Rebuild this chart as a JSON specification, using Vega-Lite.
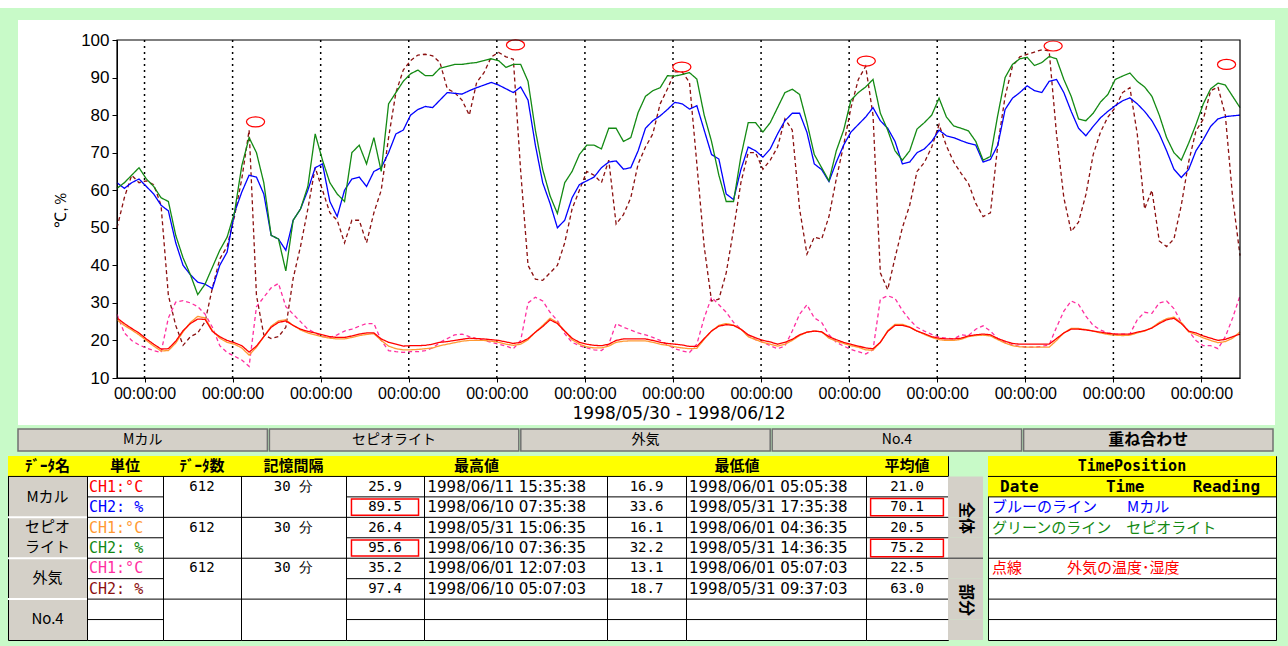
{
  "$schema": "https://vega.github.io/schema/vega-lite/v6.json",
  "background": "#c8fac8",
  "padding": {"left": 0, "top": 0, "right": 0, "bottom": 6},
  "config": {"view": {"stroke": null}, "font": "Liberation Sans"},
  "datasets": {
    "series": [
      {"t":"1998-05-30T16:30","b":62,"g":60.5,"o":50,"r":26,"y":25.5,"p":27},
      {"t":"1998-05-30T18:30","b":60.5,"g":62,"o":58,"r":24.5,"y":24,"p":22},
      {"t":"1998-05-30T20:30","b":62,"g":64,"o":64,"r":23.2,"y":22.8,"p":20},
      {"t":"1998-05-30T22:30","b":63,"g":66,"o":62,"r":22,"y":21.5,"p":18.8},
      {"t":"1998-05-31T00:30","b":61,"g":63,"o":62.5,"r":20.4,"y":20,"p":18},
      {"t":"1998-05-31T02:30","b":59,"g":61,"o":61.5,"r":19,"y":18.5,"p":17.3},
      {"t":"1998-05-31T04:30","b":56,"g":58,"o":56,"r":17.7,"y":17.2,"p":16.8},
      {"t":"1998-05-31T06:30","b":54.5,"g":57,"o":32,"r":17.8,"y":17.3,"p":26},
      {"t":"1998-05-31T08:30","b":46,"g":48,"o":24,"r":19.8,"y":19.3,"p":30.2},
      {"t":"1998-05-31T10:30","b":40,"g":42,"o":18.7,"r":22.6,"y":22.3,"p":30.6},
      {"t":"1998-05-31T12:30","b":37.5,"g":37.5,"o":21,"r":24.5,"y":24.8,"p":30},
      {"t":"1998-05-31T14:30","b":35.5,"g":32.2,"o":22,"r":25.7,"y":26.4,"p":29},
      {"t":"1998-05-31T16:30","b":35,"g":35,"o":25,"r":25.6,"y":26,"p":27},
      {"t":"1998-05-31T18:30","b":33.8,"g":39.5,"o":34,"r":22.4,"y":22.6,"p":23.5},
      {"t":"1998-05-31T20:30","b":40,"g":44,"o":41.7,"r":21,"y":20.6,"p":18.6},
      {"t":"1998-05-31T22:30","b":43.5,"g":47.5,"o":45,"r":20,"y":19.5,"p":16.8},
      {"t":"1998-06-01T00:30","b":54,"g":54,"o":53,"r":19.4,"y":19,"p":15.8},
      {"t":"1998-06-01T02:30","b":59.5,"g":66.5,"o":63,"r":18.6,"y":18,"p":14.8},
      {"t":"1998-06-01T04:30","b":64,"g":74,"o":76,"r":16.9,"y":16.1,"p":13.1},
      {"t":"1998-06-01T06:30","b":63.5,"g":70,"o":32,"r":18.5,"y":18.2,"p":29},
      {"t":"1998-06-01T08:30","b":59,"g":62,"o":21.5,"r":21,"y":21,"p":31.5},
      {"t":"1998-06-01T10:30","b":48,"g":48,"o":20.5,"r":23.5,"y":23.8,"p":34},
      {"t":"1998-06-01T12:30","b":47,"g":47,"o":21,"r":24.8,"y":25.2,"p":35.2},
      {"t":"1998-06-01T14:30","b":44,"g":38.5,"o":23.5,"r":25.2,"y":25.5,"p":29},
      {"t":"1998-06-01T16:30","b":52,"g":52,"o":36.5,"r":24,"y":24,"p":27},
      {"t":"1998-06-01T18:30","b":55,"g":55,"o":45,"r":23,"y":22.8,"p":25},
      {"t":"1998-06-01T20:30","b":60,"g":61,"o":55,"r":22.4,"y":22,"p":23},
      {"t":"1998-06-01T22:30","b":66,"g":75,"o":66,"r":22,"y":21.5,"p":22},
      {"t":"1998-06-02T00:30","b":67,"g":68,"o":60,"r":21.5,"y":21,"p":21},
      {"t":"1998-06-02T02:30","b":57,"g":62,"o":54,"r":21,"y":20.6,"p":20.8},
      {"t":"1998-06-02T04:30","b":53,"g":59,"o":52,"r":20.8,"y":20.4,"p":21.5},
      {"t":"1998-06-02T06:30","b":60,"g":57,"o":46,"r":20.8,"y":20.4,"p":22.5},
      {"t":"1998-06-02T08:30","b":63,"g":70,"o":52,"r":21.2,"y":20.8,"p":23},
      {"t":"1998-06-02T10:30","b":63.5,"g":72,"o":52,"r":21.7,"y":21.3,"p":23.8},
      {"t":"1998-06-02T12:30","b":61,"g":67,"o":46,"r":22,"y":21.6,"p":24.5},
      {"t":"1998-06-02T14:30","b":65,"g":74,"o":54,"r":22,"y":21.8,"p":24.5},
      {"t":"1998-06-02T16:30","b":66,"g":65,"o":60,"r":20.4,"y":20,"p":20},
      {"t":"1998-06-02T18:30","b":70,"g":83,"o":74,"r":19.5,"y":18.5,"p":17.3},
      {"t":"1998-06-02T20:30","b":75,"g":86,"o":86,"r":19,"y":17.8,"p":17},
      {"t":"1998-06-02T22:30","b":76,"g":89,"o":92,"r":18.5,"y":17.5,"p":16.8},
      {"t":"1998-06-03T00:30","b":80,"g":91,"o":94.5,"r":18.6,"y":17.5,"p":17},
      {"t":"1998-06-03T02:30","b":81.5,"g":92,"o":96,"r":18.6,"y":17.6,"p":17},
      {"t":"1998-06-03T04:30","b":82.3,"g":90.5,"o":96.2,"r":18.7,"y":17.8,"p":17.3},
      {"t":"1998-06-03T06:30","b":82,"g":90.5,"o":95.8,"r":19,"y":18,"p":18},
      {"t":"1998-06-03T08:30","b":84,"g":92.5,"o":94,"r":19.5,"y":18.6,"p":19.5},
      {"t":"1998-06-03T10:30","b":86,"g":93,"o":87,"r":19.7,"y":19,"p":20.5},
      {"t":"1998-06-03T12:30","b":85.8,"g":93.5,"o":86,"r":20,"y":19.4,"p":21.5},
      {"t":"1998-06-03T14:30","b":85.6,"g":93.5,"o":84,"r":20.3,"y":19.8,"p":21.7},
      {"t":"1998-06-03T16:30","b":86.5,"g":93.8,"o":80,"r":20.6,"y":20,"p":21},
      {"t":"1998-06-03T18:30","b":87.3,"g":94,"o":88.7,"r":20.5,"y":20,"p":20.5},
      {"t":"1998-06-03T20:30","b":88,"g":94.5,"o":91.3,"r":20.4,"y":20,"p":20},
      {"t":"1998-06-03T22:30","b":88.7,"g":95,"o":95.5,"r":20.2,"y":19.8,"p":19.5},
      {"t":"1998-06-04T00:30","b":88,"g":94.5,"o":96.7,"r":20,"y":19.5,"p":19},
      {"t":"1998-06-04T02:30","b":87,"g":92.7,"o":95.5,"r":19.6,"y":19,"p":18.5},
      {"t":"1998-06-04T04:30","b":86,"g":93.5,"o":94.9,"r":19.2,"y":18.7,"p":17.8},
      {"t":"1998-06-04T06:30","b":87.5,"g":93.5,"o":65,"r":19.5,"y":19,"p":20},
      {"t":"1998-06-04T08:30","b":84,"g":89,"o":40,"r":20.5,"y":20.2,"p":30},
      {"t":"1998-06-04T10:30","b":72,"g":76,"o":36.3,"r":22.2,"y":22.2,"p":31.5},
      {"t":"1998-06-04T12:30","b":62,"g":65.5,"o":36,"r":23.7,"y":24,"p":30.5},
      {"t":"1998-06-04T14:30","b":56.5,"g":58.5,"o":38,"r":25.5,"y":25.9,"p":27.5},
      {"t":"1998-06-04T16:30","b":50,"g":53.8,"o":40,"r":24.5,"y":24.8,"p":25.3},
      {"t":"1998-06-04T18:30","b":52,"g":62,"o":46,"r":22.5,"y":22.5,"p":21.8},
      {"t":"1998-06-04T20:30","b":58,"g":65,"o":55,"r":20.6,"y":20.2,"p":19.5},
      {"t":"1998-06-04T22:30","b":61.5,"g":69.5,"o":60,"r":19.5,"y":19,"p":18.6},
      {"t":"1998-06-05T00:30","b":62.5,"g":72,"o":65,"r":19,"y":18.3,"p":18},
      {"t":"1998-06-05T02:30","b":63.5,"g":72,"o":64,"r":18.7,"y":18,"p":17.5},
      {"t":"1998-06-05T04:30","b":66,"g":71,"o":62,"r":18.6,"y":18,"p":17.3},
      {"t":"1998-06-05T06:30","b":67.5,"g":76.5,"o":68,"r":19,"y":18.5,"p":19},
      {"t":"1998-06-05T08:30","b":67.8,"g":76.5,"o":51,"r":20,"y":19.5,"p":24.5},
      {"t":"1998-06-05T10:30","b":65.6,"g":73,"o":53.5,"r":20.4,"y":19.8,"p":23.5},
      {"t":"1998-06-05T12:30","b":66,"g":74,"o":58,"r":20.4,"y":19.9,"p":22.8},
      {"t":"1998-06-05T14:30","b":70.5,"g":80.7,"o":67,"r":20.4,"y":19.9,"p":22},
      {"t":"1998-06-05T16:30","b":76.5,"g":85,"o":71.5,"r":20.4,"y":19.9,"p":21.5},
      {"t":"1998-06-05T18:30","b":78.5,"g":86.5,"o":75,"r":20,"y":19.5,"p":20.8},
      {"t":"1998-06-05T20:30","b":79.8,"g":87.3,"o":83,"r":19.5,"y":19,"p":20},
      {"t":"1998-06-05T22:30","b":81.5,"g":90.5,"o":87,"r":19.2,"y":18.7,"p":18.8},
      {"t":"1998-06-06T00:30","b":83.4,"g":90.4,"o":91.5,"r":19,"y":18.3,"p":17.8},
      {"t":"1998-06-06T02:30","b":83,"g":90.8,"o":91.5,"r":18.8,"y":18,"p":17.2},
      {"t":"1998-06-06T04:30","b":81.6,"g":91.3,"o":88.7,"r":18.4,"y":17.8,"p":16.8},
      {"t":"1998-06-06T06:30","b":82.5,"g":89.6,"o":67,"r":18.4,"y":17.9,"p":19},
      {"t":"1998-06-06T08:30","b":76,"g":80,"o":45,"r":20.5,"y":20.3,"p":26},
      {"t":"1998-06-06T10:30","b":69.5,"g":73,"o":30.5,"r":22.5,"y":22.5,"p":31.5},
      {"t":"1998-06-06T12:30","b":68.3,"g":64,"o":31,"r":23.8,"y":24,"p":29.5},
      {"t":"1998-06-06T14:30","b":59,"g":57,"o":38,"r":24.2,"y":24.5,"p":27.5},
      {"t":"1998-06-06T16:30","b":57.5,"g":57,"o":49.5,"r":24,"y":24.1,"p":24.8},
      {"t":"1998-06-06T18:30","b":65.5,"g":69,"o":62,"r":23,"y":23,"p":23},
      {"t":"1998-06-06T20:30","b":71.5,"g":78,"o":70,"r":21.5,"y":21,"p":21.5},
      {"t":"1998-06-06T22:30","b":70.5,"g":78,"o":70,"r":20.7,"y":20.2,"p":20.2},
      {"t":"1998-06-07T00:30","b":68.8,"g":75.5,"o":65.6,"r":20,"y":19.5,"p":19.5},
      {"t":"1998-06-07T02:30","b":71,"g":78,"o":68,"r":19.6,"y":19,"p":18.6},
      {"t":"1998-06-07T04:30","b":75,"g":82,"o":71.5,"r":19,"y":18.5,"p":17.8},
      {"t":"1998-06-07T06:30","b":78.5,"g":86,"o":79,"r":19.5,"y":19,"p":18.5},
      {"t":"1998-06-07T08:30","b":80.5,"g":86.9,"o":76,"r":20.3,"y":20,"p":22.5},
      {"t":"1998-06-07T10:30","b":80.5,"g":85.5,"o":55,"r":21.5,"y":21.3,"p":27},
      {"t":"1998-06-07T12:30","b":75.4,"g":78,"o":43,"r":22.2,"y":22.2,"p":29.5},
      {"t":"1998-06-07T14:30","b":67,"g":69.5,"o":47.5,"r":22.5,"y":22.5,"p":26},
      {"t":"1998-06-07T16:30","b":65.5,"g":66,"o":47,"r":22.3,"y":22.3,"p":24.8},
      {"t":"1998-06-07T18:30","b":62.3,"g":62.5,"o":53,"r":21,"y":20.6,"p":21.5},
      {"t":"1998-06-07T20:30","b":67.5,"g":70.5,"o":63,"r":20.2,"y":19.8,"p":19.5},
      {"t":"1998-06-07T22:30","b":72,"g":76,"o":72,"r":19.5,"y":19.2,"p":18.5},
      {"t":"1998-06-08T00:30","b":75.5,"g":84,"o":82,"r":19,"y":18.6,"p":17.6},
      {"t":"1998-06-08T02:30","b":77.5,"g":86,"o":89.5,"r":18.5,"y":18.2,"p":17},
      {"t":"1998-06-08T04:30","b":79.5,"g":87.5,"o":93,"r":18,"y":17.5,"p":16.4},
      {"t":"1998-06-08T06:30","b":82,"g":89.5,"o":80,"r":17.8,"y":17.4,"p":17.5},
      {"t":"1998-06-08T08:30","b":78.5,"g":80.5,"o":38,"r":19.5,"y":19.5,"p":31},
      {"t":"1998-06-08T10:30","b":76.5,"g":76,"o":33.5,"r":22.4,"y":22.6,"p":31.9},
      {"t":"1998-06-08T12:30","b":73,"g":70.5,"o":42,"r":24,"y":24.3,"p":31.2},
      {"t":"1998-06-08T14:30","b":67,"g":68,"o":50,"r":24,"y":24.3,"p":28},
      {"t":"1998-06-08T16:30","b":67.5,"g":70.5,"o":56,"r":23.5,"y":23.6,"p":25.5},
      {"t":"1998-06-08T18:30","b":70,"g":76.3,"o":65,"r":22.5,"y":22.5,"p":23.5},
      {"t":"1998-06-08T20:30","b":71,"g":78,"o":67.4,"r":21.8,"y":21.6,"p":22.5},
      {"t":"1998-06-08T22:30","b":73,"g":80,"o":71.5,"r":21,"y":20.8,"p":21.6},
      {"t":"1998-06-09T00:30","b":76,"g":84.5,"o":77.5,"r":20.6,"y":20.2,"p":20.9},
      {"t":"1998-06-09T02:30","b":74.5,"g":79.5,"o":71.8,"r":20.4,"y":20,"p":20.6},
      {"t":"1998-06-09T04:30","b":74,"g":77.1,"o":67.5,"r":20.4,"y":20,"p":20.4},
      {"t":"1998-06-09T06:30","b":73.2,"g":76.5,"o":64.5,"r":20.6,"y":20.3,"p":21.5},
      {"t":"1998-06-09T08:30","b":72.5,"g":75.8,"o":61.8,"r":21.2,"y":21,"p":21.3},
      {"t":"1998-06-09T10:30","b":72,"g":73,"o":56.5,"r":21.5,"y":21.3,"p":23},
      {"t":"1998-06-09T12:30","b":67.5,"g":68,"o":53,"r":21.7,"y":21.4,"p":23.9},
      {"t":"1998-06-09T14:30","b":68.2,"g":69,"o":54,"r":21.5,"y":21.2,"p":22.5},
      {"t":"1998-06-09T16:30","b":72,"g":80,"o":72,"r":20.5,"y":20.2,"p":20.5},
      {"t":"1998-06-09T18:30","b":81.5,"g":90,"o":85,"r":19.8,"y":19.3,"p":19.5},
      {"t":"1998-06-09T20:30","b":84.5,"g":93.5,"o":93,"r":19.2,"y":18.6,"p":18.8},
      {"t":"1998-06-09T22:30","b":86,"g":95,"o":95.5,"r":19,"y":18.3,"p":18.4},
      {"t":"1998-06-10T00:30","b":87.8,"g":95.4,"o":96.2,"r":19,"y":18.2,"p":18.2},
      {"t":"1998-06-10T02:30","b":86.5,"g":93.2,"o":96.8,"r":19,"y":18.2,"p":18.2},
      {"t":"1998-06-10T04:30","b":86,"g":94,"o":97.4,"r":19,"y":18.2,"p":18.4},
      {"t":"1998-06-10T06:30","b":89,"g":95.6,"o":97.1,"r":19,"y":18.2,"p":18.8},
      {"t":"1998-06-10T08:30","b":89.5,"g":95,"o":75,"r":20.5,"y":20,"p":23.5},
      {"t":"1998-06-10T10:30","b":86,"g":89.5,"o":58,"r":22,"y":22,"p":27.8},
      {"t":"1998-06-10T12:30","b":81,"g":85,"o":49,"r":23,"y":23.2,"p":30.5},
      {"t":"1998-06-10T14:30","b":76.5,"g":79,"o":51.5,"r":23,"y":23.2,"p":29.6},
      {"t":"1998-06-10T16:30","b":74.5,"g":78.5,"o":58.8,"r":22.8,"y":22.9,"p":26.5},
      {"t":"1998-06-10T18:30","b":77,"g":80.5,"o":69.5,"r":22.5,"y":22.5,"p":24},
      {"t":"1998-06-10T20:30","b":79.3,"g":83.5,"o":75.5,"r":22.2,"y":22,"p":22.8},
      {"t":"1998-06-10T22:30","b":81,"g":85.5,"o":79.5,"r":21.9,"y":21.6,"p":22},
      {"t":"1998-06-11T00:30","b":82.5,"g":89.5,"o":82,"r":21.7,"y":21.4,"p":21.7},
      {"t":"1998-06-11T02:30","b":83.8,"g":90.4,"o":86,"r":21.7,"y":21.3,"p":21.7},
      {"t":"1998-06-11T04:30","b":84.6,"g":91.2,"o":87.3,"r":21.7,"y":21.4,"p":21.7},
      {"t":"1998-06-11T06:30","b":83,"g":89,"o":75,"r":22.2,"y":22,"p":25.5},
      {"t":"1998-06-11T08:30","b":81,"g":87.5,"o":55,"r":22.6,"y":22.5,"p":27.5},
      {"t":"1998-06-11T10:30","b":78.5,"g":85,"o":60,"r":23.3,"y":23.4,"p":27.2},
      {"t":"1998-06-11T12:30","b":75,"g":80,"o":46.5,"r":24.5,"y":24.8,"p":30},
      {"t":"1998-06-11T14:30","b":70.5,"g":74,"o":45,"r":25.5,"y":25.8,"p":30.5},
      {"t":"1998-06-11T16:30","b":65.6,"g":70,"o":47,"r":25.9,"y":26.2,"p":28.5},
      {"t":"1998-06-11T18:30","b":63.4,"g":68,"o":56,"r":24.5,"y":24.8,"p":24.8},
      {"t":"1998-06-11T20:30","b":65.5,"g":72.5,"o":67.5,"r":22.5,"y":22.3,"p":22.5},
      {"t":"1998-06-11T22:30","b":70.5,"g":77.5,"o":75.8,"r":22,"y":21.5,"p":20},
      {"t":"1998-06-12T00:30","b":73.5,"g":83,"o":78.9,"r":21.2,"y":20.7,"p":18.6},
      {"t":"1998-06-12T02:30","b":77,"g":87,"o":86.5,"r":20.6,"y":20,"p":18.6},
      {"t":"1998-06-12T04:30","b":79,"g":88.5,"o":87.5,"r":20,"y":19.4,"p":17.8},
      {"t":"1998-06-12T06:30","b":79.6,"g":88,"o":80,"r":20.3,"y":19.7,"p":21},
      {"t":"1998-06-12T08:30","b":79.8,"g":85,"o":58,"r":21,"y":20.6,"p":26},
      {"t":"1998-06-12T10:30","b":80,"g":82,"o":42.6,"r":21.7,"y":22.3,"p":31.9}
    ],
    "peaks": [
      {"t":"1998-06-01T06:15","v":78.2},
      {"t":"1998-06-04T05:05","v":98.7},
      {"t":"1998-06-06T02:25","v":92.8},
      {"t":"1998-06-08T04:40","v":94.4},
      {"t":"1998-06-10T07:35","v":98.4},
      {"t":"1998-06-12T06:50","v":93.5}
    ],
    "days": [
      {"t":"1998-05-31T00:00"},{"t":"1998-06-01T00:00"},{"t":"1998-06-02T00:00"},{"t":"1998-06-03T00:00"},
      {"t":"1998-06-04T00:00"},{"t":"1998-06-05T00:00"},{"t":"1998-06-06T00:00"},{"t":"1998-06-07T00:00"},
      {"t":"1998-06-08T00:00"},{"t":"1998-06-09T00:00"},{"t":"1998-06-10T00:00"},{"t":"1998-06-11T00:00"},
      {"t":"1998-06-12T00:00"}
    ],
    "tabs": [{"tab":"Mカル"},{"tab":"セピオライト"},{"tab":"外気"},{"tab":"No.4"},{"tab":"重ね合わせ"}],
    "rows": [
      {"row":"r1","pair":true},{"row":"r2","pair":false},{"row":"r3","pair":true},{"row":"r4","pair":false},
      {"row":"r5","pair":true},{"row":"r6","pair":false},{"row":"r7","pair":true},{"row":"r8","pair":false}
    ],
    "hl": [{"col":"maxv","row":"r2"},{"col":"maxv","row":"r4"},{"col":"avg","row":"r2"},{"col":"avg","row":"r4"}],
    "cells": [
      {"col":"name","row":"r0","text":"ﾃﾞｰﾀ名"},
      {"col":"name","row":"r1","text":"Mカル"},
      {"col":"name","row":"r3","text":"セピオ"},
      {"col":"name","row":"r4","text":"ライト"},
      {"col":"name","row":"r5","text":"外気"},
      {"col":"name","row":"r7","text":"No.4"},
      {"col":"unit","row":"r0","text":"単位"},
      {"col":"unit","row":"r1","text":"CH1:°C","ser":"r"},
      {"col":"unit","row":"r2","text":"CH2: %","ser":"b"},
      {"col":"unit","row":"r3","text":"CH1:°C","ser":"y"},
      {"col":"unit","row":"r4","text":"CH2: %","ser":"g"},
      {"col":"unit","row":"r5","text":"CH1:°C","ser":"p"},
      {"col":"unit","row":"r6","text":"CH2: %","ser":"o"},
      {"col":"count","row":"r0","text":"ﾃﾞｰﾀ数"},
      {"col":"count","row":"r1","text":"612"},
      {"col":"count","row":"r3","text":"612"},
      {"col":"count","row":"r5","text":"612"},
      {"col":"int","row":"r0","text":"記憶間隔"},
      {"col":"int","row":"r1","text":"30 分"},
      {"col":"int","row":"r3","text":"30 分"},
      {"col":"int","row":"r5","text":"30 分"},
      {"col":"maxv","row":"r0","text":""},
      {"col":"maxv","row":"r1","text":"25.9"},
      {"col":"maxv","row":"r2","text":"89.5"},
      {"col":"maxv","row":"r3","text":"26.4"},
      {"col":"maxv","row":"r4","text":"95.6"},
      {"col":"maxv","row":"r5","text":"35.2"},
      {"col":"maxv","row":"r6","text":"97.4"},
      {"col":"maxt","row":"r0","text":"最高値"},
      {"col":"maxt","row":"r1","text":"1998/06/11 15:35:38"},
      {"col":"maxt","row":"r2","text":"1998/06/10 07:35:38"},
      {"col":"maxt","row":"r3","text":"1998/05/31 15:06:35"},
      {"col":"maxt","row":"r4","text":"1998/06/10 07:36:35"},
      {"col":"maxt","row":"r5","text":"1998/06/01 12:07:03"},
      {"col":"maxt","row":"r6","text":"1998/06/10 05:07:03"},
      {"col":"minv","row":"r0","text":""},
      {"col":"minv","row":"r1","text":"16.9"},
      {"col":"minv","row":"r2","text":"33.6"},
      {"col":"minv","row":"r3","text":"16.1"},
      {"col":"minv","row":"r4","text":"32.2"},
      {"col":"minv","row":"r5","text":"13.1"},
      {"col":"minv","row":"r6","text":"18.7"},
      {"col":"mint","row":"r0","text":"最低値"},
      {"col":"mint","row":"r1","text":"1998/06/01 05:05:38"},
      {"col":"mint","row":"r2","text":"1998/05/31 17:35:38"},
      {"col":"mint","row":"r3","text":"1998/06/01 04:36:35"},
      {"col":"mint","row":"r4","text":"1998/05/31 14:36:35"},
      {"col":"mint","row":"r5","text":"1998/06/01 05:07:03"},
      {"col":"mint","row":"r6","text":"1998/05/31 09:37:03"},
      {"col":"avg","row":"r0","text":"平均値"},
      {"col":"avg","row":"r1","text":"21.0"},
      {"col":"avg","row":"r2","text":"70.1"},
      {"col":"avg","row":"r3","text":"20.5"},
      {"col":"avg","row":"r4","text":"75.2"},
      {"col":"avg","row":"r5","text":"22.5"},
      {"col":"avg","row":"r6","text":"63.0"},
      {"col":"btn","row":"r2","text":"全体"},
      {"col":"btn","row":"r6","text":"部分"},
      {"col":"tp","row":"r0","text":"TimePosition"},
      {"col":"tp","row":"r1","text":"Date\u00a0\u00a0\u00a0\u00a0\u00a0\u00a0\u00a0Time\u00a0\u00a0\u00a0\u00a0\u00a0Reading"},
      {"col":"tp","row":"r2","text":"ブルーのライン　　Mカル","ser":"b"},
      {"col":"tp","row":"r3","text":"グリーンのライン　セピオライト","ser":"g"},
      {"col":"tp","row":"r5","text":"点線　　　外気の温度･湿度","ser":"n"}
    ]
  },
  "resolve": {"scale": {"color": "independent"}},
  "spacing": 3,
  "vconcat": [
    {"width": 1288, "height": 8, "data": {"values": [{}]}, "mark": {"type": "rect", "color": "white"}},
    {"width": 1288, "height": 6, "data": {"values": [{}]}, "mark": {"type": "rect", "color": "#c8fac8"}},
    {
      "bounds": "flush",
      "spacing": 0,
      "hconcat": [
        {"width": 18, "height": 405, "data": {"values": []}, "mark": "rect"},
        {
          "width": 1257,
          "height": 405,
          "view": {"fill": "white", "stroke": null},
          "layer": [
            {
              "data": {"name": "days"},
              "mark": {"type": "rule", "color": "black", "strokeDash": [2, 4], "strokeWidth": 1.5},
              "encoding": {
                "x": {"field": "t", "type": "temporal"},
                "y": {"datum": 100, "type": "quantitative"},
                "y2": {"datum": 10}
              }
            },
            {
              "data": {"name": "series"},
              "transform": [{"fold": ["o", "p", "y", "r", "b", "g"], "as": ["s", "v"]}],
              "mark": {"type": "line", "strokeWidth": 1.3},
              "encoding": {
                "x": {
                  "field": "t", "type": "temporal",
                  "scale": {"domain": [{"year": 1998, "month": 5, "date": 30, "hours": 16, "minutes": 30}, {"year": 1998, "month": 6, "date": 12, "hours": 10, "minutes": 30}], "range": [99, 1222], "nice": false},
                  "axis": {
                    "orient": "bottom", "offset": -47, "format": "%H:%M:%S",
                    "tickCount": {"interval": "day", "step": 1}, "grid": false,
                    "domainColor": "black", "tickColor": "black", "tickSize": 4,
                    "labelColor": "black", "labelFontSize": 16, "labelPadding": 3, "labelFlush": false, "labelOverlap": false,
                    "title": "1998/05/30 - 1998/06/12", "titleFont": "DejaVu Sans", "titleFontSize": 17, "titleFontWeight": "normal", "titleColor": "black", "titlePadding": 4
                  }
                },
                "y": {
                  "field": "v", "type": "quantitative",
                  "scale": {"domain": [10, 100], "range": [358, 20], "nice": false, "zero": false},
                  "axis": {
                    "orient": "left", "offset": -99, "grid": false,
                    "values": [10, 15, 20, 25, 30, 35, 40, 45, 50, 55, 60, 65, 70, 75, 80, 85, 90, 95, 100],
                    "labelExpr": "datum.value % 10 === 0 ? datum.label : ''",
                    "domainColor": "black", "tickColor": "black", "tickSize": 5,
                    "labelColor": "black", "labelFontSize": 17, "labelPadding": 3,
                    "title": "℃,％", "titleFontSize": 16, "titleFontWeight": "normal", "titleColor": "black", "titlePadding": 12
                  }
                },
                "color": {"field": "s", "type": "nominal", "legend": null,
                  "scale": {"domain": ["b", "g", "o", "r", "y", "p", "n"], "range": ["#0000ff", "#138a13", "#8b1010", "#ff0000", "#ff9933", "#ff2fa0", "#ff0000"]}},
                "strokeDash": {"field": "s", "type": "nominal", "legend": null,
                  "scale": {"domain": ["b", "g", "o", "r", "y", "p"], "range": [[1, 0], [1, 0], [4, 3], [1, 0], [1, 0], [4, 3]]}}
              }
            },
            {
              "data": {"name": "peaks"},
              "mark": {"type": "point", "shape": "M-1,0A1,0.55,0,1,1,1,0A1,0.55,0,1,1,-1,0Z", "size": 330, "filled": false, "color": "#ff0000", "strokeWidth": 1.2, "opacity": 1},
              "encoding": {
                "x": {"field": "t", "type": "temporal"},
                "y": {"field": "v", "type": "quantitative"}
              }
            },
            {
              "data": {"values": [{}]},
              "mark": {"type": "rect", "filled": false, "color": "black", "strokeWidth": 1.2},
              "encoding": {
                "x": {"datum": {"year": 1998, "month": 5, "date": 30, "hours": 16, "minutes": 30}, "type": "temporal"},
                "x2": {"datum": {"year": 1998, "month": 6, "date": 12, "hours": 10, "minutes": 30}},
                "y": {"datum": 100, "type": "quantitative"},
                "y2": {"datum": 10}
              }
            }
          ]
        }
      ]
    },
    {
      "bounds": "flush",
      "spacing": 0,
      "hconcat": [
        {"width": 18, "height": 22, "data": {"values": []}, "mark": "rect"},
        {
          "width": 1255,
          "height": 22,
          "data": {"name": "tabs"},
          "encoding": {"x": {"field": "tab", "type": "nominal", "sort": null, "axis": null, "scale": {"paddingInner": 0.008, "paddingOuter": 0}}},
          "layer": [
            {"mark": {"type": "rect", "color": "#d4d0c8", "stroke": "#707070", "strokeWidth": 1.5}},
            {"transform": [{"filter": "datum.tab !== '重ね合わせ'"}], "mark": {"type": "text", "font": "Noto Sans CJK JP", "fontSize": 14, "color": "black"}, "encoding": {"text": {"field": "tab"}}},
            {"transform": [{"filter": "datum.tab === '重ね合わせ'"}], "mark": {"type": "text", "font": "Noto Sans CJK JP", "fontSize": 16, "fontWeight": "bold", "color": "black"}, "encoding": {"text": {"field": "tab"}}}
          ]
        }
      ]
    },
    {
      "bounds": "flush",
      "spacing": 0,
      "hconcat": [
        {"width": 8, "height": 184, "data": {"values": []}, "mark": "rect"},
        {
          "width": 79, "height": 184, "view": {"fill": "#d4d0c8", "stroke": "black"},
          "layer": [
            {"data": {"name": "cells"}, "transform": [{"filter": "datum.col === 'name' && datum.row === 'r0'"}], "mark": {"type": "rect", "color": "#ffff00"},
             "encoding": {"y": {"field": "row", "type": "nominal", "axis": null, "scale": {"domain": ["r0","r1","r2","r3","r4","r5","r6","r7","r8"], "paddingInner": 0, "paddingOuter": 0}}}},
            {"data": {"name": "rows"}, "transform": [{"filter": "datum.row === 'r1'"}], "mark": {"type": "rule", "color": "black"},
             "encoding": {"y": {"field": "row", "type": "nominal", "bandPosition": 0, "axis": null}}},
            {"data": {"name": "rows"}, "transform": [{"filter": "datum.pair && datum.row !== 'r1'"}], "mark": {"type": "rule", "color": "white", "strokeWidth": 2},
             "encoding": {"y": {"field": "row", "type": "nominal", "bandPosition": 0, "axis": null}}},
            {"data": {"name": "cells"}, "transform": [{"filter": "datum.col === 'name' && datum.row === 'r0'"}], "mark": {"type": "text", "font": "Noto Sans CJK JP", "fontSize": 15, "fontWeight": "bold", "color": "black"},
             "encoding": {"y": {"field": "row", "type": "nominal", "axis": null}, "text": {"field": "text"}}},
            {"data": {"name": "cells"}, "transform": [{"filter": "datum.col === 'name' && (datum.row === 'r1' || datum.row === 'r5' || datum.row === 'r7')"}], "mark": {"type": "text", "font": "Noto Sans CJK JP", "fontSize": 15, "dy": 10, "color": "black"},
             "encoding": {"y": {"field": "row", "type": "nominal", "axis": null}, "text": {"field": "text"}}},
            {"data": {"name": "cells"}, "transform": [{"filter": "datum.col === 'name' && (datum.row === 'r3' || datum.row === 'r4')"}], "mark": {"type": "text", "font": "Noto Sans CJK JP", "fontSize": 15, "dy": -1, "color": "black"},
             "encoding": {"y": {"field": "row", "type": "nominal", "axis": null}, "text": {"field": "text"}}}
          ]
        },
        {
          "width": 76, "height": 184, "view": {"fill": "white", "stroke": "black"},
          "layer": [
            {"data": {"name": "cells"}, "transform": [{"filter": "datum.col === 'unit' && datum.row === 'r0'"}], "mark": {"type": "rect", "color": "#ffff00"},
             "encoding": {"y": {"field": "row", "type": "nominal", "axis": null, "scale": {"domain": ["r0","r1","r2","r3","r4","r5","r6","r7","r8"], "paddingInner": 0, "paddingOuter": 0}}}},
            {"data": {"name": "rows"}, "mark": {"type": "rule", "color": "black"},
             "encoding": {"y": {"field": "row", "type": "nominal", "bandPosition": 0, "axis": null}}},
            {"data": {"name": "cells"}, "transform": [{"filter": "datum.col === 'unit' && datum.row === 'r0'"}], "mark": {"type": "text", "font": "Noto Sans CJK JP", "fontSize": 15, "fontWeight": "bold", "color": "black"},
             "encoding": {"y": {"field": "row", "type": "nominal", "axis": null}, "text": {"field": "text"}}},
            {"data": {"name": "cells"}, "transform": [{"filter": "datum.col === 'unit' && datum.row !== 'r0'"}], "mark": {"type": "text", "font": "DejaVu Sans Mono", "fontSize": 15, "align": "left", "dx": -36},
             "encoding": {"y": {"field": "row", "type": "nominal", "axis": null}, "text": {"field": "text"},
              "color": {"field": "ser", "type": "nominal", "legend": null, "scale": {"domain": ["b", "g", "o", "r", "y", "p", "n"], "range": ["#0000ff", "#138a13", "#8b1010", "#ff0000", "#ff9933", "#ff2fa0", "#ff0000"]}}}}
          ]
        },
        {
          "width": 78, "height": 184, "view": {"fill": "white", "stroke": "black"},
          "layer": [
            {"data": {"name": "cells"}, "transform": [{"filter": "datum.col === 'count' && datum.row === 'r0'"}], "mark": {"type": "rect", "color": "#ffff00"},
             "encoding": {"y": {"field": "row", "type": "nominal", "axis": null, "scale": {"domain": ["r0","r1","r2","r3","r4","r5","r6","r7","r8"], "paddingInner": 0, "paddingOuter": 0}}}},
            {"data": {"name": "rows"}, "transform": [{"filter": "datum.pair"}], "mark": {"type": "rule", "color": "black"},
             "encoding": {"y": {"field": "row", "type": "nominal", "bandPosition": 0, "axis": null}}},
            {"data": {"name": "cells"}, "transform": [{"filter": "datum.col === 'count' && datum.row === 'r0'"}], "mark": {"type": "text", "font": "Noto Sans CJK JP", "fontSize": 15, "fontWeight": "bold", "color": "black"},
             "encoding": {"y": {"field": "row", "type": "nominal", "axis": null}, "text": {"field": "text"}}},
            {"data": {"name": "cells"}, "transform": [{"filter": "datum.col === 'count' && datum.row !== 'r0'"}], "mark": {"type": "text", "font": "DejaVu Sans Mono", "fontSize": 14, "color": "black"},
             "encoding": {"y": {"field": "row", "type": "nominal", "axis": null}, "text": {"field": "text"}}}
          ]
        },
        {
          "width": 105, "height": 184, "view": {"fill": "white", "stroke": "black"},
          "layer": [
            {"data": {"name": "cells"}, "transform": [{"filter": "datum.col === 'int' && datum.row === 'r0'"}], "mark": {"type": "rect", "color": "#ffff00"},
             "encoding": {"y": {"field": "row", "type": "nominal", "axis": null, "scale": {"domain": ["r0","r1","r2","r3","r4","r5","r6","r7","r8"], "paddingInner": 0, "paddingOuter": 0}}}},
            {"data": {"name": "rows"}, "transform": [{"filter": "datum.pair"}], "mark": {"type": "rule", "color": "black"},
             "encoding": {"y": {"field": "row", "type": "nominal", "bandPosition": 0, "axis": null}}},
            {"data": {"name": "cells"}, "transform": [{"filter": "datum.col === 'int' && datum.row === 'r0'"}], "mark": {"type": "text", "font": "Noto Sans CJK JP", "fontSize": 15, "fontWeight": "bold", "color": "black"},
             "encoding": {"y": {"field": "row", "type": "nominal", "axis": null}, "text": {"field": "text"}}},
            {"data": {"name": "cells"}, "transform": [{"filter": "datum.col === 'int' && datum.row !== 'r0'"}], "mark": {"type": "text", "font": "DejaVu Sans Mono", "fontSize": 14, "color": "black"},
             "encoding": {"y": {"field": "row", "type": "nominal", "axis": null}, "text": {"field": "text"}}}
          ]
        },
        {
          "width": 78, "height": 184, "view": {"fill": "white", "stroke": "black"},
          "layer": [
            {"data": {"name": "cells"}, "transform": [{"filter": "datum.col === 'maxv' && datum.row === 'r0'"}], "mark": {"type": "rect", "color": "#ffff00"},
             "encoding": {"y": {"field": "row", "type": "nominal", "axis": null, "scale": {"domain": ["r0","r1","r2","r3","r4","r5","r6","r7","r8"], "paddingInner": 0, "paddingOuter": 0}}}},
            {"data": {"name": "rows"}, "mark": {"type": "rule", "color": "black"},
             "encoding": {"y": {"field": "row", "type": "nominal", "bandPosition": 0, "axis": null}}},
            {"data": {"name": "hl"}, "transform": [{"filter": "datum.col === 'maxv'"}], "mark": {"type": "point", "shape": "M-1,-0.24L1,-0.24L1,0.24L-1,0.24Z", "size": 4500, "filled": false, "color": "#ff0000", "strokeWidth": 1.5, "opacity": 1},
             "encoding": {"y": {"field": "row", "type": "nominal", "axis": null}}},
            {"data": {"name": "cells"}, "transform": [{"filter": "datum.col === 'maxv' && datum.row !== 'r0'"}], "mark": {"type": "text", "font": "DejaVu Sans Mono", "fontSize": 14, "color": "black"},
             "encoding": {"y": {"field": "row", "type": "nominal", "axis": null}, "text": {"field": "text"}}}
          ]
        },
        {
          "width": 183, "height": 184, "view": {"fill": "white", "stroke": "black"},
          "layer": [
            {"data": {"name": "cells"}, "transform": [{"filter": "datum.col === 'maxt' && datum.row === 'r0'"}], "mark": {"type": "rect", "color": "#ffff00"},
             "encoding": {"y": {"field": "row", "type": "nominal", "axis": null, "scale": {"domain": ["r0","r1","r2","r3","r4","r5","r6","r7","r8"], "paddingInner": 0, "paddingOuter": 0}}}},
            {"data": {"name": "rows"}, "mark": {"type": "rule", "color": "black"},
             "encoding": {"y": {"field": "row", "type": "nominal", "bandPosition": 0, "axis": null}}},
            {"data": {"name": "cells"}, "transform": [{"filter": "datum.col === 'maxt' && datum.row === 'r0'"}], "mark": {"type": "text", "font": "Noto Sans CJK JP", "fontSize": 15, "fontWeight": "bold", "color": "black", "dx": -39},
             "encoding": {"y": {"field": "row", "type": "nominal", "axis": null}, "text": {"field": "text"}}},
            {"data": {"name": "cells"}, "transform": [{"filter": "datum.col === 'maxt' && datum.row !== 'r0'"}], "mark": {"type": "text", "font": "DejaVu Sans", "fontSize": 15, "color": "black", "align": "left", "dx": -88},
             "encoding": {"y": {"field": "row", "type": "nominal", "axis": null}, "text": {"field": "text"}}}
          ]
        },
        {
          "width": 79, "height": 184, "view": {"fill": "white", "stroke": "black"},
          "layer": [
            {"data": {"name": "cells"}, "transform": [{"filter": "datum.col === 'minv' && datum.row === 'r0'"}], "mark": {"type": "rect", "color": "#ffff00"},
             "encoding": {"y": {"field": "row", "type": "nominal", "axis": null, "scale": {"domain": ["r0","r1","r2","r3","r4","r5","r6","r7","r8"], "paddingInner": 0, "paddingOuter": 0}}}},
            {"data": {"name": "rows"}, "mark": {"type": "rule", "color": "black"},
             "encoding": {"y": {"field": "row", "type": "nominal", "bandPosition": 0, "axis": null}}},
            {"data": {"name": "cells"}, "transform": [{"filter": "datum.col === 'minv' && datum.row !== 'r0'"}], "mark": {"type": "text", "font": "DejaVu Sans Mono", "fontSize": 14, "color": "black"},
             "encoding": {"y": {"field": "row", "type": "nominal", "axis": null}, "text": {"field": "text"}}}
          ]
        },
        {
          "width": 180, "height": 184, "view": {"fill": "white", "stroke": "black"},
          "layer": [
            {"data": {"name": "cells"}, "transform": [{"filter": "datum.col === 'mint' && datum.row === 'r0'"}], "mark": {"type": "rect", "color": "#ffff00"},
             "encoding": {"y": {"field": "row", "type": "nominal", "axis": null, "scale": {"domain": ["r0","r1","r2","r3","r4","r5","r6","r7","r8"], "paddingInner": 0, "paddingOuter": 0}}}},
            {"data": {"name": "rows"}, "mark": {"type": "rule", "color": "black"},
             "encoding": {"y": {"field": "row", "type": "nominal", "bandPosition": 0, "axis": null}}},
            {"data": {"name": "cells"}, "transform": [{"filter": "datum.col === 'mint' && datum.row === 'r0'"}], "mark": {"type": "text", "font": "Noto Sans CJK JP", "fontSize": 15, "fontWeight": "bold", "color": "black", "dx": -39},
             "encoding": {"y": {"field": "row", "type": "nominal", "axis": null}, "text": {"field": "text"}}},
            {"data": {"name": "cells"}, "transform": [{"filter": "datum.col === 'mint' && datum.row !== 'r0'"}], "mark": {"type": "text", "font": "DejaVu Sans", "fontSize": 15, "color": "black", "align": "left", "dx": -87},
             "encoding": {"y": {"field": "row", "type": "nominal", "axis": null}, "text": {"field": "text"}}}
          ]
        },
        {
          "width": 82, "height": 184, "view": {"fill": "white", "stroke": "black"},
          "layer": [
            {"data": {"name": "cells"}, "transform": [{"filter": "datum.col === 'avg' && datum.row === 'r0'"}], "mark": {"type": "rect", "color": "#ffff00"},
             "encoding": {"y": {"field": "row", "type": "nominal", "axis": null, "scale": {"domain": ["r0","r1","r2","r3","r4","r5","r6","r7","r8"], "paddingInner": 0, "paddingOuter": 0}}}},
            {"data": {"name": "rows"}, "mark": {"type": "rule", "color": "black"},
             "encoding": {"y": {"field": "row", "type": "nominal", "bandPosition": 0, "axis": null}}},
            {"data": {"name": "hl"}, "transform": [{"filter": "datum.col === 'avg'"}], "mark": {"type": "point", "shape": "M-1,-0.24L1,-0.24L1,0.24L-1,0.24Z", "size": 5300, "filled": false, "color": "#ff0000", "strokeWidth": 1.5, "opacity": 1},
             "encoding": {"y": {"field": "row", "type": "nominal", "axis": null}}},
            {"data": {"name": "cells"}, "transform": [{"filter": "datum.col === 'avg' && datum.row === 'r0'"}], "mark": {"type": "text", "font": "Noto Sans CJK JP", "fontSize": 15, "fontWeight": "bold", "color": "black"},
             "encoding": {"y": {"field": "row", "type": "nominal", "axis": null}, "text": {"field": "text"}}},
            {"data": {"name": "cells"}, "transform": [{"filter": "datum.col === 'avg' && datum.row !== 'r0'"}], "mark": {"type": "text", "font": "DejaVu Sans Mono", "fontSize": 14, "color": "black"},
             "encoding": {"y": {"field": "row", "type": "nominal", "axis": null}, "text": {"field": "text"}}}
          ]
        },
        {
          "width": 35, "height": 184, "view": {"stroke": null},
          "layer": [
            {"data": {"name": "rows"}, "mark": {"type": "rect", "color": "#d4d0c8"},
             "encoding": {"y": {"field": "row", "type": "nominal", "axis": null, "scale": {"domain": ["r0","r1","r2","r3","r4","r5","r6","r7","r8"], "paddingInner": 0, "paddingOuter": 0}}}},
            {"data": {"name": "rows"}, "transform": [{"filter": "datum.row === 'r5'"}], "mark": {"type": "rule", "color": "#606060", "strokeWidth": 1.5},
             "encoding": {"y": {"field": "row", "type": "nominal", "bandPosition": 0, "axis": null}}},
            {"data": {"name": "cells"}, "transform": [{"filter": "datum.col === 'btn'"}], "mark": {"type": "text", "font": "Noto Sans CJK JP", "fontSize": 16, "fontWeight": "bold", "angle": 90, "dx": 11, "color": "black"},
             "encoding": {"y": {"field": "row", "type": "nominal", "axis": null}, "text": {"field": "text"}}}
          ]
        },
        {"width": 5, "height": 184, "data": {"values": []}, "mark": "rect"},
        {
          "width": 288, "height": 184, "view": {"fill": "white", "stroke": "black"},
          "layer": [
            {"data": {"name": "cells"}, "transform": [{"filter": "datum.col === 'tp' && (datum.row === 'r0' || datum.row === 'r1')"}], "mark": {"type": "rect", "color": "#ffff00"},
             "encoding": {"y": {"field": "row", "type": "nominal", "axis": null, "scale": {"domain": ["r0","r1","r2","r3","r4","r5","r6","r7","r8"], "paddingInner": 0, "paddingOuter": 0}}}},
            {"data": {"name": "rows"}, "mark": {"type": "rule", "color": "black"},
             "encoding": {"y": {"field": "row", "type": "nominal", "bandPosition": 0, "axis": null}}},
            {"data": {"name": "cells"}, "transform": [{"filter": "datum.col === 'tp' && datum.row === 'r0'"}], "mark": {"type": "text", "font": "DejaVu Sans Mono", "fontSize": 15, "fontWeight": "bold", "color": "black"},
             "encoding": {"y": {"field": "row", "type": "nominal", "axis": null}, "text": {"field": "text"}}},
            {"data": {"name": "cells"}, "transform": [{"filter": "datum.col === 'tp' && datum.row === 'r1'"}], "mark": {"type": "text", "font": "DejaVu Sans Mono", "fontSize": 16, "fontWeight": "bold", "color": "black", "align": "left", "dx": -132},
             "encoding": {"y": {"field": "row", "type": "nominal", "axis": null}, "text": {"field": "text"}}},
            {"data": {"name": "cells"}, "transform": [{"filter": "datum.col === 'tp' && datum.row !== 'r0' && datum.row !== 'r1'"}], "mark": {"type": "text", "font": "Noto Sans CJK JP", "fontSize": 15, "align": "left", "dx": -140},
             "encoding": {"y": {"field": "row", "type": "nominal", "axis": null}, "text": {"field": "text"},
              "color": {"field": "ser", "type": "nominal", "legend": null, "scale": {"domain": ["b", "g", "o", "r", "y", "p", "n"], "range": ["#3a3aff", "#2a9a2a", "#8b1010", "#ff0000", "#ff9933", "#ff2fa0", "#ff1a1a"]}}}}
          ]
        }
      ]
    }
  ]
}
